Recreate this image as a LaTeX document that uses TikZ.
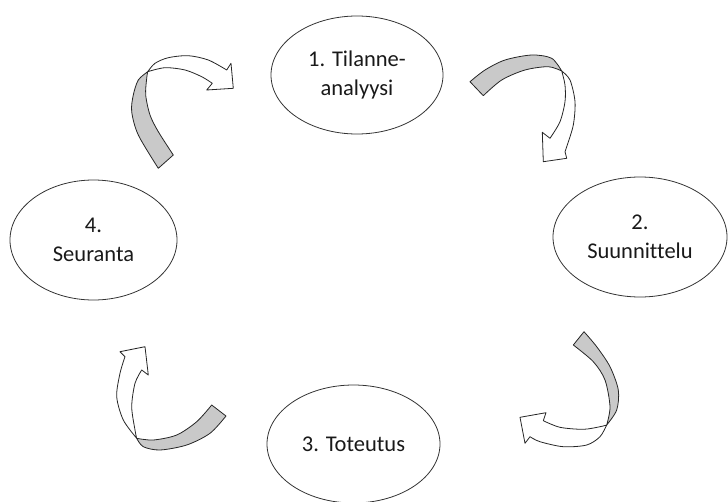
\documentclass[tikz,border=0pt]{standalone}
\usepackage{fontspec}
\setmainfont[Ligatures=NoCommon]{Carlito}
\usetikzlibrary{shapes.geometric}
\begin{document}
\begin{tikzpicture}[x=1pt,y=-1pt,
  stage/.style={ellipse, draw=black!80, line width=0.8pt, inner sep=0pt, align=center,
    font=\fontsize{22.5}{29}\selectfont, text=black!90},
  back/.style={fill=black!21, draw=black!85, line width=0.8pt, line join=round},
  front/.style={fill=white, draw=black!85, line width=0.8pt, line join=round}]
\useasboundingbox (0,0) rectangle (728,501);

% stages
\node[stage, minimum width=172pt, minimum height=118pt] (s1) at (357,75) {1. Tilanne-\\analyysi};
\node[stage, minimum width=174pt, minimum height=120pt] (s2) at (640,237) {2.\\Suunnittelu};
\node[stage, minimum width=173pt, minimum height=118pt] (s3) at (353.5,444) {3. Toteutus};
\node[stage, minimum width=167pt, minimum height=120pt] (s4) at (93.5,240) {4.\\Seuranta};

% arrow 1 (4 -> 1)
\filldraw[back] (158.3,168.3) -- (173.3,155)
  -- plot[smooth] coordinates {(173.3,155) (158.3,131.7) (150,115) (145.7,95) (146.7,78.3) (147.7,71.7)}
  -- plot[smooth] coordinates {(147.7,71.7) (138.3,80) (133.3,95) (131.7,111.7) (138.3,135) (158.3,168.3)}
  -- cycle;
\filldraw[front] (147.7,71.7)
  -- plot[smooth] coordinates {(147.7,71.7) (155,63.3) (168.3,57.7) (188.3,55.7) (208.3,60) (226.7,70)}
  -- (231,63.3) -- (233.3,88.3) -- (206.7,90) -- (212.3,83.3)
  -- plot[smooth] coordinates {(212.3,83.3) (201.7,76.7) (185,70) (165,67.7) (147.7,71.7)}
  -- cycle;

% arrow 2 (1 -> 2)
\filldraw[back] (470,81.7)
  -- plot[smooth] coordinates {(470,81.7) (485,70) (505,60) (531.7,55) (551.7,58.3) (561.7,71)}
  -- plot[smooth] coordinates {(561.7,71) (548.3,66.7) (525,70) (501.7,80) (483.3,95.7)}
  -- cycle;
\filldraw[front] (561.7,71)
  -- plot[smooth] coordinates {(561.7,71) (570,80) (575,101.7) (573.3,125) (566.7,146.7) (565,151.7)}
  -- (566.7,158.3) -- (543.3,161.7) -- (542.3,132.3) -- (550,138.3)
  -- plot[smooth] coordinates {(550,138.3) (560,121.7) (565,101.7) (565,85) (561.7,71)}
  -- cycle;

% arrow 3 (2 -> 3)
\filldraw[back] (584,331.7)
  -- plot[smooth] coordinates {(584,331.7) (596.7,346.7) (610,366.7) (618.3,390) (616.7,410) (606.7,425)}
  -- plot[smooth] coordinates {(606.7,425) (610,406.7) (605,380) (593.3,361.7) (573.3,345)}
  -- cycle;
\filldraw[front] (606.7,425)
  -- plot[smooth] coordinates {(606.7,425) (600,436.7) (586.7,445) (563.3,446.7) (540,441.7) (530,436.7)}
  -- (525,443.3) -- (520,417.3) -- (546,412.7) -- (543.3,420.7)
  -- plot[smooth] coordinates {(543.3,420.7) (560,427.3) (583.3,429.3) (600,426.7) (606.7,425)}
  -- cycle;

% arrow 4 (3 -> 4)
\filldraw[back] (226,416)
  -- plot[smooth] coordinates {(226,416) (210,433.3) (186.7,445) (160,450) (143.3,446.7) (136.7,438.3)}
  -- plot[smooth] coordinates {(136.7,438.3) (153.3,440) (176.7,435) (196.7,421.7) (211.7,405)}
  -- cycle;
\filldraw[front] (136.7,438.3)
  -- plot[smooth] coordinates {(136.7,438.3) (123.3,420) (116.7,396.7) (120,373.3) (125,356.7)}
  -- (120,351.7) -- (145,346.7) -- (148.3,375) -- (141.7,370)
  -- plot[smooth] coordinates {(141.7,370) (135,383.3) (131.7,406.7) (135,430) (136.7,438.3)}
  -- cycle;
\end{tikzpicture}
\end{document}
